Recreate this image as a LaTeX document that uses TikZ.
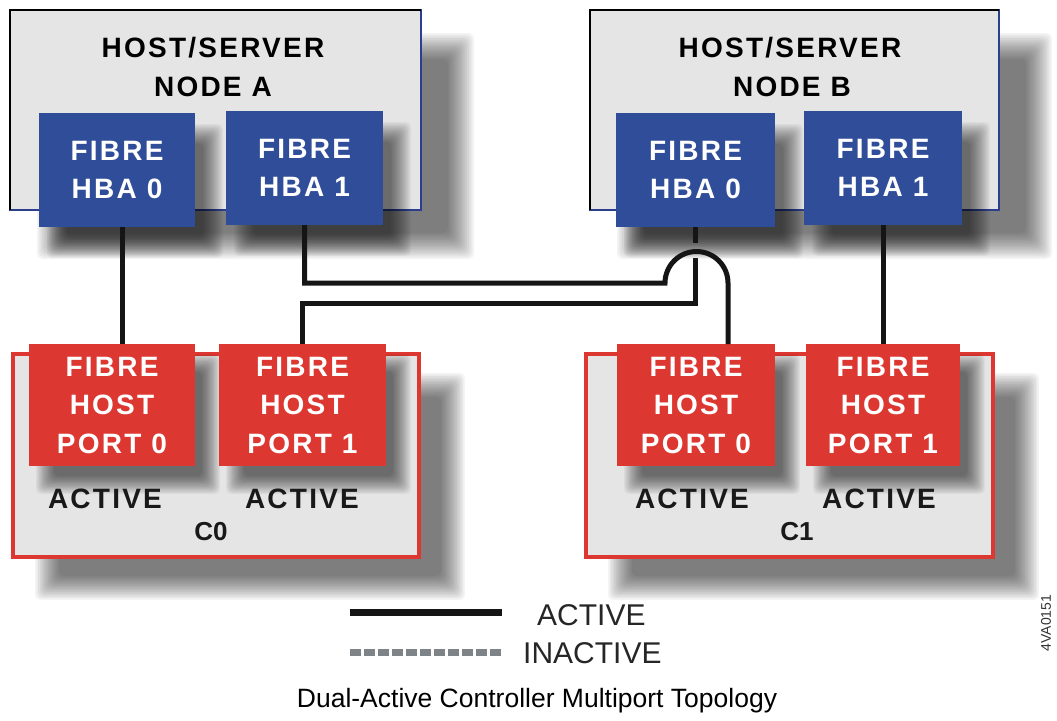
\documentclass[tikz,border=0pt]{standalone}
\usepackage{fontspec}
\setmainfont{Liberation Sans}
\usetikzlibrary{calc}

\definecolor{hbablue}{HTML}{2F4D98}
\definecolor{portred}{HTML}{DC3731}
\definecolor{panelgray}{HTML}{E5E5E5}
\definecolor{wireblack}{HTML}{151515}
\definecolor{inactivegray}{HTML}{7E8387}
\definecolor{hostedge}{HTML}{2B3F8E}

\newcommand\boxfont{\fontsize{28}{38.5}\selectfont\bfseries\addfontfeature{LetterSpace=8}}
\newcommand\titlefont{\fontsize{28}{28}\selectfont\bfseries\addfontfeature{LetterSpace=8}}
\newcommand\statefont{\fontsize{28}{28}\selectfont\bfseries\addfontfeature{LetterSpace=8}}

% layered drop shadows: panel shadows, panels, card shadows, then cards and wires
\pgfdeclarelayer{panelshade}
\pgfdeclarelayer{panelbody}
\pgfdeclarelayer{cardshade}
\pgfsetlayers{panelshade,panelbody,cardshade,main}

% soft shadow of a rectangular node: #1 node, #2/#3 offset, #4 half width of the fade
\newcommand\castshadow[4]{%
  \foreach \k in {0,...,15}{%
    \pgfmathsetmacro\ins{-#4+\k*#4*2/15}%
    \fill[black, fill opacity=0.043, rounded corners=5pt]
      ($(#1.north west)+(#2+\ins,#3+\ins)$) rectangle ($(#1.south east)+(#2-\ins,#3-\ins)$);
  }}

\begin{document}
\begin{tikzpicture}[x=1pt,y=-1pt,
  hostpanel/.style={anchor=north west, inner sep=0pt, outer sep=0pt,
      fill=panelgray, draw=hostedge, line width=1.3pt},
  ctlpanel/.style={anchor=north west, inner sep=0pt, outer sep=0pt,
      fill=panelgray, draw=portred, line width=4pt},
  hbacard/.style={anchor=north west, inner sep=0pt, outer sep=0pt,
      fill=hbablue, text=white, font=\boxfont, align=center},
  portcard/.style={anchor=north west, inner sep=0pt, outer sep=0pt,
      fill=portred, text=white, font=\boxfont, align=center},
  hosttitle/.style={anchor=base, inner sep=0pt, font=\titlefont, text=black},
  statelabel/.style={anchor=base, inner sep=0pt, font=\statefont, text=black!90},
  ctlname/.style={anchor=base, inner sep=0pt, font=\fontsize{26}{26}\selectfont\bfseries, text=black!90},
  wire/.style={draw=wireblack, line width=5pt, line cap=butt, line join=miter},
  legendtext/.style={anchor=base west, inner sep=0pt, font=\fontsize{30}{30}\selectfont, text=black!85},
  inactivewire/.style={draw=inactivegray, line width=7pt, dash pattern=on 11pt off 3pt},
]
\useasboundingbox (0,0) rectangle (1057,720);

% host servers and controllers
\begin{pgfonlayer}{panelbody}
\node[hostpanel, minimum width=411pt, minimum height=200pt] (hostA) at (10,10) {};
\draw[black, line width=2.2pt] (hostA.south west) |- (hostA.north east);
\node[hostpanel, minimum width=409pt, minimum height=200pt] (hostB) at (590,10) {};
\draw[black, line width=2.2pt] (hostB.south west) |- (hostB.north east);
\node[ctlpanel, minimum width=406pt, minimum height=203pt] (ctlC0) at (13,354) {};
\node[ctlpanel, minimum width=407pt, minimum height=203pt] (ctlC1) at (586,354) {};
\end{pgfonlayer}

\begin{pgfonlayer}{panelshade}
\castshadow{hostA}{40}{36}{13}
\castshadow{hostB}{40}{36}{13}
\castshadow{ctlC0}{34}{31}{12}
\castshadow{ctlC1}{34}{31}{12}
\end{pgfonlayer}

\node[hosttitle] (tA1) at (213,57) {HOST/SERVER};
\node[hosttitle] (tA2) at (213,96) {NODE A};
\node[hosttitle] (tB1) at (790,57) {HOST/SERVER};
\node[hosttitle] (tB2) at (792,96) {NODE B};

% host bus adapters
\node[hbacard, minimum width=156pt, minimum height=114pt] (hbaA0) at (39,113) {FIBRE\\HBA 0};
\node[hbacard, minimum width=157pt, minimum height=114pt] (hbaA1) at (226,111) {FIBRE\\HBA 1};
\node[hbacard, minimum width=159pt, minimum height=114pt] (hbaB0) at (616,113) {FIBRE\\HBA 0};
\node[hbacard, minimum width=158pt, minimum height=114pt] (hbaB1) at (804,111) {FIBRE\\HBA 1};

% controller host ports
\node[portcard, minimum width=166pt, minimum height=122pt] (pC00) at (29,344) {FIBRE\\HOST\\PORT 0};
\node[portcard, minimum width=167pt, minimum height=122pt] (pC01) at (219,344) {FIBRE\\HOST\\PORT 1};
\node[portcard, minimum width=158pt, minimum height=122pt] (pC10) at (617,344) {FIBRE\\HOST\\PORT 0};
\node[portcard, minimum width=154pt, minimum height=122pt] (pC11) at (806,344) {FIBRE\\HOST\\PORT 1};

\begin{pgfonlayer}{cardshade}
\castshadow{hbaA0}{18}{21}{10}
\castshadow{hbaA1}{18}{21}{10}
\castshadow{hbaB0}{18}{21}{10}
\castshadow{hbaB1}{18}{21}{10}
\castshadow{pC00}{16}{19}{9}
\castshadow{pC01}{16}{19}{9}
\castshadow{pC10}{16}{19}{9}
\castshadow{pC11}{16}{19}{9}
\end{pgfonlayer}

\node[statelabel] (sC00) at (105,508) {ACTIVE};
\node[statelabel] (sC01) at (302,508) {ACTIVE};
\node[statelabel] (sC10) at (692,508) {ACTIVE};
\node[statelabel] (sC11) at (879,508) {ACTIVE};
\node[ctlname] (nC0) at (211,540) {C0};
\node[ctlname] (nC1) at (797,540) {C1};

% fibre links
\coordinate (wA0) at (122,0);
\coordinate (busB) at (0,303);
\coordinate (gapTop) at (0,243);
\coordinate (gapBot) at (0,258);
\coordinate (hopL) at (665,283);
\coordinate (hopR) at (728,283);

\draw[wire] (hbaA0.south -| wA0) -- (pC00.north -| wA0);
\draw[wire] (hbaB1.south) -- (pC11.north);
\draw[wire] (hbaB0.south) -- (hbaB0.south |- gapTop);
\draw[wire] (hbaB0.south |- gapBot) -- (hbaB0.south |- busB) -| (pC01.north);
\draw[wire] (hbaA1.south) |- (hopL) arc[start angle=180, end angle=360, radius=31.5] -- (pC10.north -| hopR);

% legend
\coordinate (la1) at (350,612);
\coordinate (la2) at (502,612);
\coordinate (li1) at (350,652);
\coordinate (li2) at (502,652);
\draw[wire, line width=7pt] (la1) -- (la2);
\draw[inactivewire] (li1) -- (li2);
\node[legendtext] (legAct) at (537,625) {ACTIVE};
\node[legendtext] (legInact) at (523,663) {INACTIVE};

\node[anchor=base, inner sep=0pt, font=\fontsize{26.5}{26.5}\selectfont] (caption) at (537,707)
  {Dual-Active Controller Multiport Topology};
\node[rotate=90, inner sep=0pt, font=\fontsize{14}{14}\selectfont, text=black!80] (figid) at (1046,623) {4VA0151};
\end{tikzpicture}
\end{document}
